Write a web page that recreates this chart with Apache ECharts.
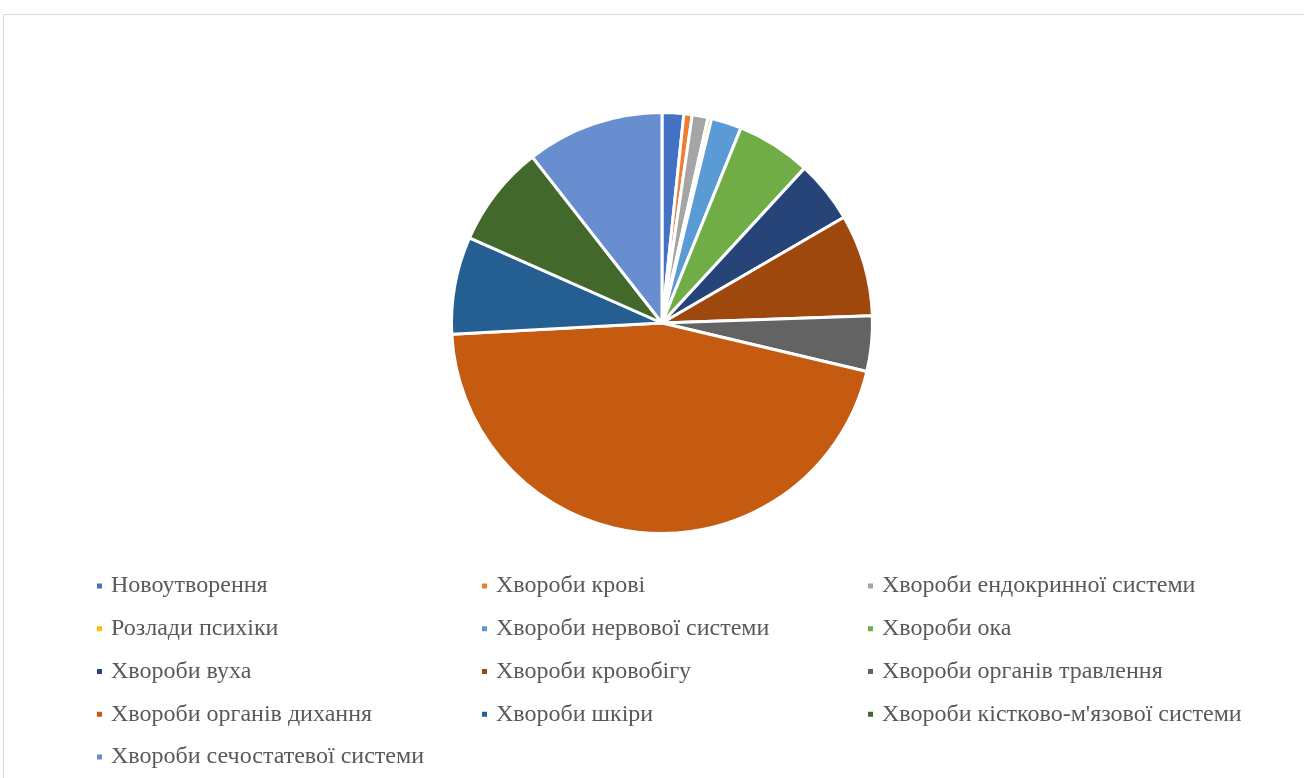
<!DOCTYPE html>
<html>
<head>
<meta charset="utf-8">
<script src="https://cdn.jsdelivr.net/npm/echarts@6/dist/echarts.min.js"></script>
<style>
html,body{margin:0;padding:0;background:#fff;}
#chart{width:1304px;height:778px;}
</style>
</head>
<body>
<div id="chart"></div>
<script>
var categories = [
  'Новоутворення',
  'Хвороби крові',
  'Хвороби ендокринної системи',
  'Розлади психіки',
  'Хвороби нервової системи',
  'Хвороби ока',
  'Хвороби вуха',
  'Хвороби кровобігу',
  'Хвороби органів травлення',
  'Хвороби органів дихання',
  'Хвороби шкіри',
  'Хвороби кістково-м\'язової системи',
  'Хвороби сечостатевої системи'
];
var values = [1.66, 0.64, 1.21, 0.28, 2.33, 5.72, 4.78, 7.83, 4.25, 45.45, 7.47, 7.83, 10.55];
var colors = ['#4472C4', '#ED7D31', '#A5A5A5', '#FFC000', '#5B9BD5', '#70AD47', '#264478', '#9E480E', '#636363', '#C55A11', '#255E91', '#43682B', '#698ED0'];

var chart = echarts.init(document.getElementById('chart'), null, {renderer: 'canvas'});
var data = categories.map(function (c, i) {
  return {name: c, value: values[i], itemStyle: {color: colors[i]}};
});
function col(k) {
  return categories.filter(function (c, i) { return i % 3 === k; });
}
var legendBase = {
  orient: 'vertical',
  top: 574,
  itemWidth: 7,
  itemHeight: 7,
  icon: 'rect',
  itemGap: 18.75,
  selectedMode: false,
  textStyle: {fontFamily: 'Liberation Serif', fontSize: 24, color: '#595959', lineHeight: 24, padding: [0, 0, 0, 3]},
  padding: 0
};
chart.setOption({
  animation: false,
  backgroundColor: '#fff',
  graphic: [{
    type: 'rect',
    shape: {x: 3.5, y: 14.5, width: 1400, height: 900},
    style: {fill: 'none', stroke: '#d9d9d9', lineWidth: 1}
  }],
  legend: [
    Object.assign({}, legendBase, {left: 95, data: col(0)}),
    Object.assign({}, legendBase, {left: 480, data: col(1)}),
    Object.assign({}, legendBase, {left: 866, data: col(2)})
  ],
  series: [{
    type: 'pie',
    center: [662, 323],
    radius: [0, 210.5],
    startAngle: 90,
    clockwise: true,
    label: {show: false},
    labelLine: {show: false},
    itemStyle: {borderColor: '#fff', borderWidth: 3},
    emphasis: {disabled: true},
    data: data
  }]
});
</script>
</body>
</html>
